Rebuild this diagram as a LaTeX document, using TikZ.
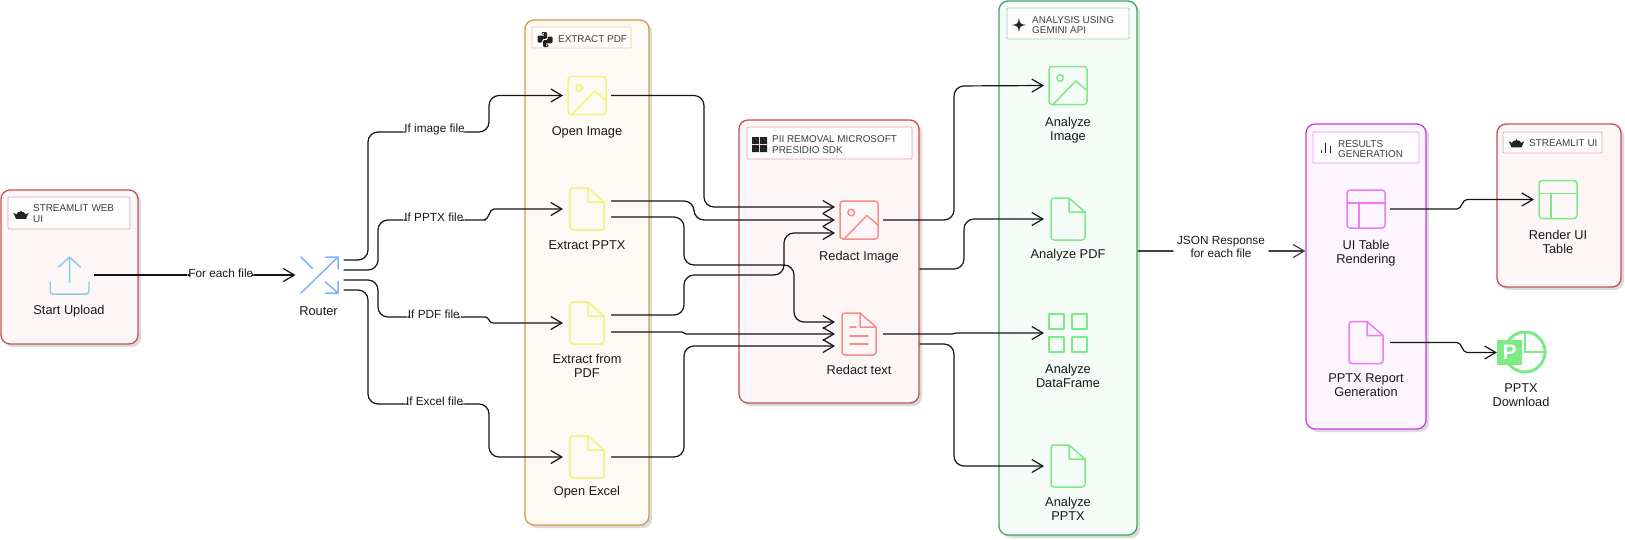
\documentclass[tikz,border=0pt]{standalone}
\usepackage{fontspec}
\setmainfont{Liberation Sans}
\usetikzlibrary{arrows.meta,shadows}
\definecolor{RedClr}{HTML}{C75050}
\definecolor{OrangeClr}{HTML}{D69A45}
\definecolor{GreenClr}{HTML}{3DA85F}
\definecolor{PurpleClr}{HTML}{C83CE0}
\definecolor{IcoYellow}{HTML}{F5F27A}
\definecolor{IcoRed}{HTML}{FA8C8C}
\definecolor{IcoGreen}{HTML}{7CEB86}
\definecolor{IcoPurple}{HTML}{F07AF0}
\definecolor{IcoSky}{HTML}{8EC8E2}
\definecolor{IcoBlue}{HTML}{7FB3FF}
\definecolor{TagClr}{HTML}{222222}
\newcommand{\docoutline}{
  \draw[rounded corners=3pt] (1,-21) -- (-17,-21) -- (-17,21) -- (17,21) -- (17,-7);
  \draw (1,-21) -- (17,-7) -- (1,-7) -- cycle;
}
\tikzset{
  panel/.style={draw=#1,fill=#1!5,line width=1.3pt,rounded corners=9pt,
    drop shadow={shadow xshift=3pt,shadow yshift=-3pt,fill=black!14,opacity=1}},
  headbox/.style={draw=#1!50,fill=white,fill opacity=.75,line width=.9pt,rounded corners=1pt},
  headtxt/.style={anchor=west,align=left,inner sep=0,text=black!75,
    font=\fontsize{9.9}{10.8}\selectfont},
  iconlbl/.style={align=center,inner sep=0,text=black!90,font=\fontsize{12.8}{14}\selectfont},
  edgelbl/.style={align=center,fill=white,inner sep=1pt,text=black!90,
    font=\fontsize{11.8}{12.5}\selectfont},
  conn/.style={draw=black!92,line width=1.2pt,rounded corners=10pt,
    -{Straight Barb[length=11pt,width=13pt,line width=1.2pt]}},
  glyphnode/.style={minimum width=40,minimum height=44,outer sep=4pt,inner sep=0},
  glyphline/.style={draw=#1,line width=1.5pt,line cap=round,line join=round},
  imgglyph/.style={glyphnode,path picture={
    \begin{scope}[shift={(path picture bounding box.center)},glyphline=#1]
      \draw[rounded corners=3pt] (-19,-19) rectangle (19,19);
      \draw (-7.8,-7.5) circle (3.3);
      \draw (-15,19) -- (7.8,-4.5) -- (19,5);
    \end{scope}}},
  docglyph/.style={glyphnode,path picture={
    \begin{scope}[shift={(path picture bounding box.center)},glyphline=#1]
      \docoutline
    \end{scope}}},
  txtglyph/.style={glyphnode,path picture={
    \begin{scope}[shift={(path picture bounding box.center)},glyphline=#1]
      \docoutline
      \draw (-9,-7) -- (-3,-7) (-9,2) -- (9,2) (-9,10) -- (9,10);
    \end{scope}}},
  tblglyph/.style={glyphnode,path picture={
    \begin{scope}[shift={(path picture bounding box.center)},glyphline=#1]
      \draw[rounded corners=3pt] (-19,-19) rectangle (19,19);
      \draw (-19,-6) -- (19,-6) (-7,-6) -- (-7,19);
    \end{scope}}},
  gridglyph/.style={glyphnode,path picture={
    \begin{scope}[shift={(path picture bounding box.center)},glyphline=#1]
      \draw (-19,-19) rectangle (-4,-4);
      \draw (4,-19) rectangle (19,-4);
      \draw (-19,4) rectangle (-4,19);
      \draw (4,4) rectangle (19,19);
    \end{scope}}},
  upglyph/.style={glyphnode,path picture={
    \begin{scope}[shift={(path picture bounding box.center)},glyphline=#1]
      \draw[rounded corners=3pt] (-19.5,7) -- (-19.5,19) -- (19.5,19) -- (19.5,7);
      \draw (0,7) -- (0,-18) (-11,-8) -- (0,-18) -- (11,-8);
    \end{scope}}},
  routeglyph/.style={glyphnode,path picture={
    \begin{scope}[shift={(path picture bounding box.center)},glyphline=#1]
      \draw (-18.5,18) -- (18.5,-18) (6,-18) -- (18.5,-18) -- (18.5,-6);
      \draw (-18.5,-18) -- (-7,-6.5) (6,7) -- (18.5,18) (18.5,6) -- (18.5,18) -- (6,18);
    \end{scope}}},
  crown/.pic={\fill[TagClr] (-7.7,-2.2) -- (-4.5,-.6) -- (-2.8,-3) -- (-.9,-3) -- (0,-4.6) -- (.9,-3) -- (2.8,-3)
    -- (4.5,-.6) -- (7.7,-2.2) -- (5,3.8) -- (-5,3.8) -- cycle;},
  pygrip/.pic={\fill[TagClr,rounded corners=1.2pt] (-3.5,-7.5) -- (2,-7.5) -- (2,-.6) -- (-2.7,-.6)
    -- (-2.7,3) -- (-7.5,3) -- (-7.5,-3.8) -- (0,-3.8) -- (0,-4.8) -- (-3.5,-4.8) -- cycle;
    \fill[white] (-1.6,-6) circle (.7);},
  winpane/.pic={\fill[TagClr] (-7.5,-7.5) rectangle (-.5,-.5) (.5,-7.5) rectangle (7.5,-.5)
    (-7.5,.5) rectangle (-.5,7.5) (.5,.5) rectangle (7.5,7.5);},
  spark/.pic={\fill[TagClr] (0,-7.5) .. controls (.6,-1.5) and (1.5,-.6) .. (7.5,0)
    .. controls (1.5,.6) and (.6,1.5) .. (0,7.5) .. controls (-.6,1.5) and (-1.5,.6) .. (-7.5,0)
    .. controls (-1.5,-.6) and (-.6,-1.5) .. (0,-7.5);},
  barset/.pic={\draw[TagClr,line width=1pt] (-4.5,1.5) -- (-4.5,5) (0,-5) -- (0,5) (4.5,-2) -- (4.5,5);}
}

\begin{document}
\begin{tikzpicture}[x=1pt,y=-1pt]
\useasboundingbox (0,0) rectangle (1625,539);

\node[panel=RedClr,minimum width=137,minimum height=154] (uploadbox) at (69.5,267) {};
\node[panel=OrangeClr,minimum width=124,minimum height=505] (extractbox) at (587,272.5) {};
\node[panel=RedClr,minimum width=180,minimum height=283] (redactbox) at (829,261.5) {};
\node[panel=GreenClr,minimum width=138,minimum height=534] (analysisbox) at (1068,268) {};
\node[panel=PurpleClr,minimum width=120,minimum height=305] (resultsbox) at (1366,276.5) {};
\node[panel=RedClr,minimum width=124,minimum height=163] (uibox) at (1559,205.5) {};

\node[headbox=RedClr,minimum width=122,minimum height=32] (uploadhead) at (69,213) {};
\node[headbox=OrangeClr,minimum width=99,minimum height=21] (extracthead) at (581.5,37.5) {};
\node[headbox=RedClr,minimum width=165,minimum height=32] (redacthead) at (829.5,143) {};
\node[headbox=GreenClr,minimum width=122,minimum height=31] (analysishead) at (1068,23.5) {};
\node[headbox=PurpleClr,minimum width=106,minimum height=31] (resultshead) at (1366,147.5) {};
\node[headbox=RedClr,minimum width=99,minimum height=21] (uihead) at (1552.5,142.5) {};

\node[headtxt] (uploadtxt) at (33,213.5) {STREAMLIT WEB\\UI};
\node[headtxt] (extracttxt) at (558,39) {EXTRACT PDF};
\node[headtxt] (redacttxt) at (772,144.5) {PII REMOVAL MICROSOFT\\PRESIDIO SDK};
\node[headtxt] (analysistxt) at (1032,25) {ANALYSIS USING\\GEMINI API};
\node[headtxt] (resultstxt) at (1338,149) {RESULTS\\GENERATION};
\node[headtxt] (uitxt) at (1529,143) {STREAMLIT UI};

\pic at (21,215) {crown};
\pic at (545,39.5) {pygrip};
\pic[rotate=180] at (545,39.5) {pygrip};
\pic at (759.5,144.5) {winpane};
\pic at (1019,25) {spark};
\pic at (1325.5,148) {barset};
\pic at (1516.5,143.5) {crown};

\node[upglyph=IcoSky] (upload) at (69.5,275) {};
\node[routeglyph=IcoBlue] (router) at (319.5,275) {};
\node[imgglyph=IcoYellow] (openimg) at (587,95.5) {};
\node[docglyph=IcoYellow] (extpptx) at (587,209) {};
\node[docglyph=IcoYellow] (extpdf) at (587,323) {};
\node[docglyph=IcoYellow] (openxls) at (587,457) {};
\node[imgglyph=IcoRed] (redimg) at (859,220) {};
\node[txtglyph=IcoRed] (redtxt) at (859,334) {};
\node[imgglyph=IcoGreen] (anaimg) at (1068,85.5) {};
\node[docglyph=IcoGreen] (anapdf) at (1068,219) {};
\node[gridglyph=IcoGreen] (anadf) at (1068,333) {};
\node[docglyph=IcoGreen] (anapptx) at (1068,466) {};
\node[tblglyph=IcoPurple] (uitable) at (1366,209) {};
\node[docglyph=IcoPurple] (report) at (1366,342.5) {};
\node[tblglyph=IcoGreen] (rendertbl) at (1558,199.5) {};

\node[circle,draw=IcoGreen,line width=3pt,minimum size=40,inner sep=0] (pptxring) at (1525,352) {};
\draw[IcoGreen,line width=2pt] (pptxring.north) -- (pptxring.center) -- (pptxring.east);
\node[fill=IcoGreen,minimum size=25,inner sep=0,text=white,font=\fontsize{21}{21}\selectfont\bfseries] (pptxtag) at (1509.5,352.5) {P};

\node[iconlbl] (uploadlbl) at (69,311.5) {Start Upload};
\node[iconlbl] (routerlbl) at (318.5,311) {Router};
\node[iconlbl] (openimglbl) at (587,132.5) {Open Image};
\node[iconlbl] (extpptxlbl) at (587,245.5) {Extract PPTX};
\node[iconlbl] (extpdflbl) at (587,366) {Extract from\\PDF};
\node[iconlbl] (openxlslbl) at (587,492.5) {Open Excel};
\node[iconlbl] (redimglbl) at (859,257) {Redact Image};
\node[iconlbl] (redtxtlbl) at (859,370) {Redact text};
\node[iconlbl] (anaimglbl) at (1068,130) {Analyze\\Image};
\node[iconlbl] (anapdflbl) at (1068,255) {Analyze PDF};
\node[iconlbl] (anadflbl) at (1068,376) {Analyze\\DataFrame};
\node[iconlbl] (anapptxlbl) at (1068,509) {Analyze\\PPTX};
\node[iconlbl] (uitablelbl) at (1366,253) {UI Table\\Rendering};
\node[iconlbl] (reportlbl) at (1366,385) {PPTX Report\\Generation};
\node[iconlbl] (rendertbllbl) at (1558,242) {Render UI\\Table};
\node[iconlbl] (pptxlbl) at (1521,395.5) {PPTX\\Download};

\draw[conn] (upload.east) -- node[edgelbl,pos=.63,yshift=2pt] {For each file} (router.west);

\draw[conn] ([yshift=15pt]router.east) -- (368,260) -- (368,132) -- node[edgelbl,pos=.55,yshift=2.5pt] {If image file} (489,132) -- (489,95.5) -- (openimg.west);
\draw[conn] ([yshift=5pt]router.east) -- (378,270) -- (378,220) -- node[edgelbl,pos=.57,yshift=2.5pt] {If PPTX file} (476,220) [sharp corners] -- (484,220) .. controls (489,220) and (489,209) .. (494,209) -- (extpptx.west);
\draw[conn] ([yshift=-5pt]router.east) -- (378,280) -- (378,317) -- node[edgelbl,pos=.57,yshift=2.5pt] {If PDF file} (476,317) [sharp corners] -- (485,317) .. controls (489,317) and (489,323) .. (493,323) -- (extpdf.west);
\draw[conn] ([yshift=-15pt]router.east) -- (368,290) -- (368,404) -- node[edgelbl,pos=.55,yshift=2.5pt] {If Excel file} (489,404) -- (489,457) -- (openxls.west);

\draw[conn] (openimg.east) -- (704,95.5) -- (704,207) -- ([yshift=13pt]redimg.west);
\draw[conn] ([yshift=8pt]extpptx.east) -- (694,201) -- (694,220) -- (redimg.west);
\draw[conn] ([yshift=-8pt]extpptx.east) -- (684,217) -- (684,265) -- (794,265) -- (794,322) -- ([yshift=12pt]redtxt.west);
\draw[conn] ([yshift=8pt]extpdf.east) -- (684,315) -- (684,275) -- (784,275) -- (784,233) -- ([yshift=-13pt]redimg.west);
\draw[conn,sharp corners] ([yshift=-9pt]extpdf.east) -- (682,332) .. controls (684,332) and (684,334) .. (686,334) -- (redtxt.west);
\draw[conn] (openxls.east) -- (684,457) -- (684,346) -- ([yshift=-12pt]redtxt.west);

\draw[conn] (redimg.east) -- (954,220) -- (954,86) -- (anaimg.west);
\draw[conn] ([yshift=-7.5pt]redactbox.east) -- (964,269) -- (964,219) -- (anapdf.west);
\draw[conn,sharp corners] (redtxt.east) -- (952,334) .. controls (954,334) and (954,333) .. (956,333) -- (anadf.west);
\draw[conn] ([yshift=-82.5pt]redactbox.east) -- (954,344) -- (954,466) -- (anapptx.west);

\draw[conn,draw=black!75] ([yshift=17pt]analysisbox.east) -- node[edgelbl,pos=.497,yshift=4pt,inner xsep=4pt] {JSON Response\\for each file} ([yshift=25.5pt]resultsbox.west);

\draw[conn,sharp corners] (uitable.east) -- (1457,209) .. controls (1462,209) and (1462,199.5) .. (1467,199.5) -- (rendertbl.west);
\draw[conn,sharp corners] (report.east) -- (1457,342.5) .. controls (1462,342.5) and (1462,352.5) .. (1467,352.5) -- (pptxtag.west);
\end{tikzpicture}
\end{document}
